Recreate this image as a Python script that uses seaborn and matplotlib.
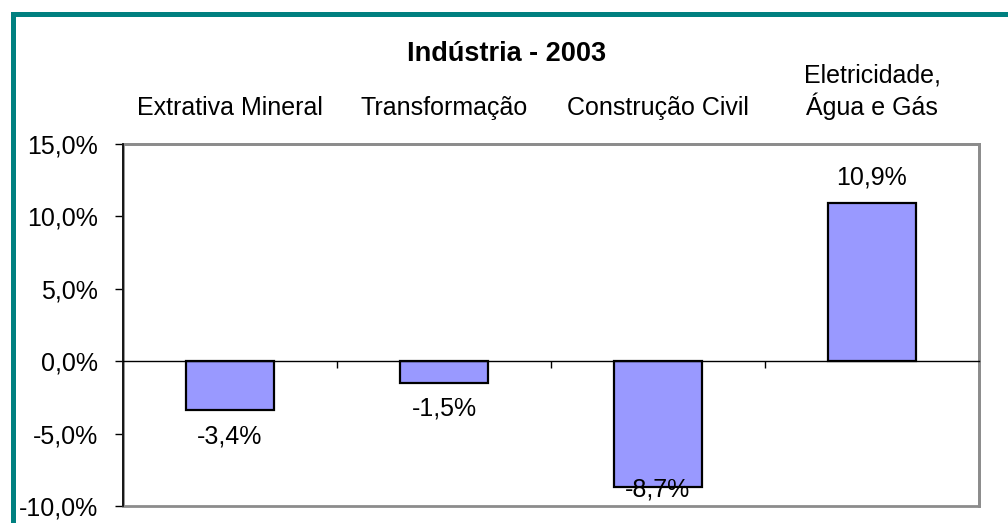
"""Indústria - 2003: variação por setor"""
import matplotlib
matplotlib.use("Agg")
import matplotlib.pyplot as plt
import matplotlib.ticker as mticker
from matplotlib.patches import Rectangle
import pandas as pd
import seaborn as sns

# Data
categories = ["Extrativa Mineral", "Transformação", "Construção Civil",
              "Eletricidade,\nÁgua e Gás"]
values = [-3.4, -1.5, -8.7, 10.9]
title = "Indústria - 2003"
ymin, ymax = -10, 15

df = pd.DataFrame({"setor": categories, "valor": values})

sns.set_style("white")
plt.rcParams["font.family"] = ["Liberation Sans", "DejaVu Sans"]
plt.rcParams["text.color"] = "black"
plt.rcParams["xtick.labelcolor"] = "black"
plt.rcParams["ytick.labelcolor"] = "black"
fs = 18

fig = plt.figure(figsize=(10.08, 5.23), dpi=100)
ax = fig.add_axes([123 / 1008, 17 / 523, 856 / 1008, 362 / 523])

sns.barplot(data=df, x="setor", y="valor", color="#9999FF", saturation=1,
            edgecolor="black", linewidth=1.6, width=0.41, ax=ax, zorder=3)

ax.set_ylim(ymin, ymax)
ax.set_xlim(-0.5, len(categories) - 0.5)
ax.set_yticks(range(ymin, ymax + 1, 5))
ax.yaxis.set_major_formatter(mticker.FuncFormatter(
    lambda v, _: f"{v:.1f}%".replace(".", ",")))
ax.tick_params(axis="y", left=True, direction="out", length=6, width=1,
               color="black", labelcolor="black", pad=12, labelsize=fs)
ax.set_xlabel("")
ax.set_ylabel("")

# category labels on top, boundary ticks on the zero line
ax.tick_params(axis="x", which="major", top=False, bottom=False,
               labeltop=True, labelbottom=False, pad=14, labelsize=fs,
               labelcolor="black")
ax.set_xticks([i + 0.5 for i in range(len(categories) - 1)], minor=True)
ax.tick_params(axis="x", which="minor", bottom=True, top=False,
               direction="out", length=5, width=1, color="black")
ax.spines["bottom"].set_position(("data", 0))
ax.spines["bottom"].set_color("black")
ax.spines["bottom"].set_linewidth(1)
ax.spines["bottom"].set_zorder(4)
ax.spines["left"].set_color("black")
ax.spines["left"].set_linewidth(1.2)
ax.spines["left"].set_zorder(5)
for s in ["top", "right"]:
    ax.spines[s].set_color("#8c8c8c")
    ax.spines[s].set_linewidth(2)
ax.add_patch(Rectangle((0, 0), 1, 1, transform=ax.transAxes, fill=False,
                       edgecolor="#8c8c8c", linewidth=2, clip_on=False,
                       zorder=1))

# value labels
span = ymax - ymin
for i, v in enumerate(values):
    txt = f"{v:.1f}%".replace(".", ",")
    if v >= 0:
        ax.annotate(txt, (i, v), xytext=(0, 10), textcoords="offset points",
                    ha="center", va="bottom", fontsize=fs, zorder=6)
    elif v - 0.095 * span < ymin:
        ax.annotate(txt, (i, ymin), xytext=(0, 3), textcoords="offset points",
                    ha="center", va="bottom", fontsize=fs, zorder=6)
    else:
        ax.annotate(txt, (i, v), xytext=(0, -10), textcoords="offset points",
                    ha="center", va="top", fontsize=fs, zorder=6)

fig.text(0.503, 0.896, title, ha="center", va="center", fontsize=19.5,
         fontweight="bold")

# teal frame around the chart
fig.add_artist(Rectangle((12.5 / 1008, -0.1), 1.2, 1 - 14 / 523 + 0.1,
                         transform=fig.transFigure, fill=False,
                         edgecolor="#008080", linewidth=3.6))

fig.savefig("out.png", dpi=100)
